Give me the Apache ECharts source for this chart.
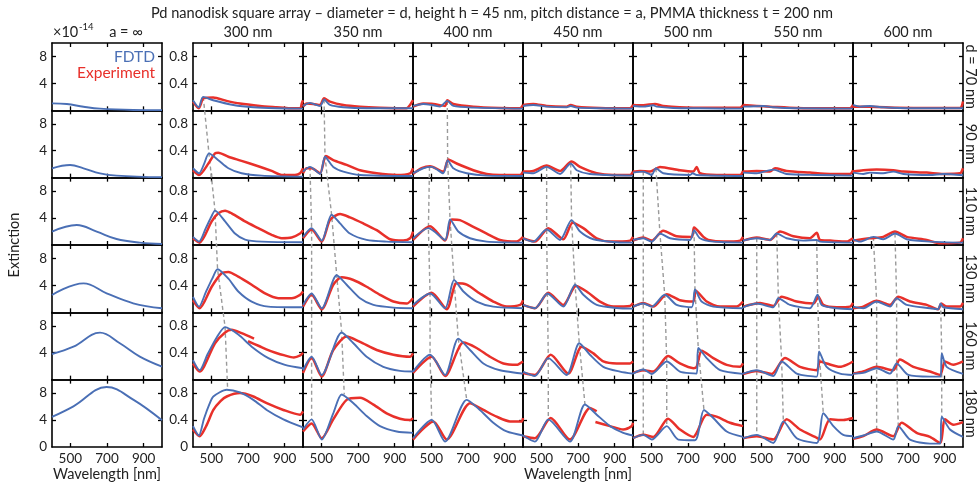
<!DOCTYPE html>
<html><head><meta charset="utf-8">
<script src="https://cdn.jsdelivr.net/npm/echarts@6/dist/echarts.min.js"></script>
<style>html,body{margin:0;padding:0;background:#fff}#c{width:978px;height:485px}</style>
</head><body><div id="c"></div>
<script>
// ---------------- labels / ticks ----------------
const titleText = 'Pd nanodisk square array \u2013 diameter = d, height h = 45 nm, pitch distance = a, PMMA thickness t = 200 nm';
const pitchLabels = ['300 nm','350 nm','400 nm','450 nm','500 nm','550 nm','600 nm'];
const diameterLabels = ['d = 70 nm','90 nm','110 nm','130 nm','160 nm','180 nm'];
const xTicks = [500, 700, 900];
const yTicksLeft = [4, 8];
const yTicksRight = [0.4, 0.8];

// ---------------- isolated disk (a = inf), x10^-14 ----------------
const fdtdIsolated = [
  [[400,1.04],[481,0.94],[572,0.54],[662,0.25],[843,0.06],[1000,0.03]],
  [[400,1.39],[499,1.88],[572,1.39],[662,0.64],[752,0.3],[1000,0.05]],
  [[400,1.98],[535,2.97],[644,1.98],[752,0.89],[879,0.35],[1000,0.15]],
  [[400,2.57],[572,4.3],[698,2.82],[843,1.34],[1000,0.6]],
  [[400,3.81],[517,4.9],[662,6.98],[770,5.4],[879,3.42],[1000,1.93]],
  [[400,4.46],[517,6.04],[698,8.9],[843,7.03],[1000,3.96]]
];

// ---------------- pitch 300 nm ----------------
const fdtd300 = [
  [[400,.15],[431,.045],[455,.2],[510,.15],[620,.08],[729,.045],[850,.03],[1000,.025]],
  [[400,.14],[433,.065],[460,.2],[487,.36],[538,.26],[593,.14],[665,.065],[775,.03],[1000,.015]],
  [[400,.12],[433,.05],[470,.25],[500,.42],[520,.51],[575,.35],[629,.17],[684,.08],[775,.05],[1000,.04]],
  [[400,.23],[433,.085],[470,.3],[505,.5],[534,.64],[593,.5],[647,.31],[720,.16],[811,.085],[1000,.075]],
  [[400,.29],[436,.14],[480,.38],[530,.63],[575,.78],[647,.67],[720,.49],[811,.32],[902,.22],[1000,.17]],
  [[400,.31],[432,.17],[460,.42],[490,.64],[511,.75],[584,.85],[656,.81],[729,.7],[802,.55],[893,.41],[1000,.29]]
];
const exp300 = [
  [[400,.13],[431,.03],[458,.18],[510,.19],[583,.14],[656,.1],[765,.065],[856,.045],[929,.03],[985,.03],[993,.1],[1000,.15]],
  [[400,.11],[433,.04],[484,.21],[520,.36],[538,.37],[593,.31],[665,.25],[756,.17],[829,.1],[884,.04],[956,.04],[984,.065],[1000,.14]],
  [[400,.1],[436,.035],[502,.35],[538,.47],[575,.51],[611,.47],[684,.35],[756,.25],[829,.15],[884,.1],[938,.11],[984,.17],[1000,.22]],
  [[400,.18],[436,.06],[502,.38],[556,.58],[593,.6],[647,.53],[720,.41],[793,.28],[865,.21],[938,.21],[984,.26],[1000,.31]],
  [[400,.24],[436,.12],[520,.54],[575,.7],[611,.74],[665,.69],[733,.61],null,[700,.57],[760,.5],[800,.45],[850,.4],[900,.36],[950,.33],[985,.36],[1000,.4]],
  [[400,.26],[436,.16],[470,.3],[511,.55],[550,.68],[584,.75],[656,.8],[729,.75],[802,.65],[893,.55],[984,.48],[1000,.53]]
];
const dash300 = [
  [[456,.2],[487,.36],[520,.51],[534,.64],[575,.78],[589,.85]]
];

// ---------------- pitch 350 nm ----------------
const fdtd350 = [
  [[400,.065],[438,.11],[493,.065],[515,.16],[547,.08],[620,.045],[747,.03],[1000,.03]],
  [[400,.09],[438,.16],[493,.055],[520,.31],[565,.16],[620,.09],[711,.04],[1000,.025]],
  [[400,.12],[447,.25],[502,.065],[556,.45],[602,.32],[656,.17],[747,.075],[856,.05],[1000,.04]],
  [[400,.11],[447,.28],[502,.06],[584,.55],[638,.41],[711,.21],[784,.11],[893,.07],[1000,.06]],
  [[400,.14],[447,.34],[502,.07],[611,.7],[675,.54],[747,.34],[838,.19],[929,.13],[1000,.12]],
  [[400,.26],[447,.41],[502,.11],[565,.5],[611,.78],[675,.65],[747,.46],[820,.31],[911,.23],[1000,.21]]
];
const exp350 = [
  [[400,.055],[420,.1],[456,.095],[493,.08],[515,.18],[547,.13],[620,.08],[711,.055],[820,.04],[965,.03],[984,.08],[1000,.15]],
  [[400,.065],[420,.14],[447,.14],[493,.065],[525,.32],[565,.26],[638,.19],[711,.11],[802,.065],[911,.04],[984,.065],[1000,.14]],
  [[400,.1],[447,.23],[502,.05],[547,.37],[602,.46],[656,.41],[729,.32],[802,.22],[875,.085],[947,.065],[984,.1],[1000,.2]],
  [[400,.085],[447,.26],[502,.045],[565,.41],[611,.52],[675,.48],[747,.38],[820,.26],[893,.16],[965,.13],[1000,.21]],
  [[400,.1],[447,.32],[502,.045],[565,.44],[638,.64],[711,.56],[802,.44],[893,.37],[984,.34],[1000,.39]],
  [[400,.23],[447,.35],[502,.13],[565,.41],[638,.7],[711,.73],[784,.63],[856,.5],[929,.42],[984,.4],[1000,.43]]
];
const dash350 = [
  [null,[438,.16],[447,.25],[447,.28],[447,.34],[447,.41]],
  [[515,.16],[520,.31],[556,.45],[584,.55],[611,.7],[625,.78]]
];

// ---------------- pitch 400 nm ----------------
const fdtd400 = [
  [[400,.065],[456,.095],[511,.075],[547,.055],[587,.14],[620,.065],[729,.04],[1000,.025]],
  [[400,.065],[456,.14],[502,.16],[565,.065],[589,.26],[620,.14],[693,.065],[802,.03],[1000,.025]],
  [[400,.1],[484,.25],[575,.075],[602,.38],[647,.2],[711,.1],[802,.05],[1000,.035]],
  [[400,.11],[493,.28],[575,.06],[624,.48],[675,.31],[747,.16],[838,.085],[1000,.06]],
  [[400,.12],[493,.37],[575,.07],[647,.61],[711,.44],[784,.24],[875,.14],[1000,.09]],
  [[400,.13],[502,.4],[575,.08],[693,.7],[765,.55],[838,.36],[911,.23],[1000,.17]]
];
const exp400 = [
  [[400,.055],[456,.1],[511,.095],[575,.065],[587,.15],[620,.095],[729,.055],[875,.035],[984,.03],[1000,.08]],
  [[400,.055],[447,.14],[493,.17],[565,.09],[593,.27],[638,.21],[729,.11],[802,.055],[875,.04],[984,.04],[1000,.09]],
  [[400,.075],[493,.28],[575,.065],[611,.38],[656,.37],[729,.27],[802,.17],[875,.075],[965,.05],[1000,.12]],
  [[400,.085],[502,.29],[584,.045],[638,.43],[693,.41],[765,.28],[838,.16],[911,.085],[984,.11],[1000,.18]],
  [[400,.1],[502,.34],[575,.055],[675,.55],[747,.47],[820,.34],[893,.24],[965,.22],[1000,.27]],
  [[400,.11],[511,.38],[584,.11],[711,.65],[784,.55],[856,.45],[929,.38],[993,.38],[1000,.43]]
];
const dash400 = [
  [null,[490,.16],[484,.25],[493,.28],[493,.37],[502,.4]],
  [[587,.14],[589,.26],[602,.38],[624,.48],[647,.61],[693,.7]]
];

// ---------------- pitch 450 nm ----------------
const fdtd450 = [
  [[400,.065],[456,.08],[529,.055],[638,.045],[660,.065],[693,.04],[820,.03],[1000,.025]],
  [[400,.075],[456,.065],[529,.16],[602,.055],[660,.21],[693,.11],[765,.055],[1000,.03]],
  [[400,.1],[456,.05],[529,.23],[602,.075],[665,.37],[711,.2],[784,.085],[911,.04],[1000,.035]],
  [[400,.11],[465,.06],[533,.28],[620,.085],[684,.41],[729,.26],[802,.11],[911,.065],[1000,.055]],
  [[400,.12],[465,.055],[538,.32],[638,.07],[707,.54],[765,.37],[838,.19],[929,.12],[1000,.09]],
  [[400,.17],[465,.08],[538,.41],[656,.08],[738,.63],[802,.48],[875,.31],[947,.21],[1000,.17]]
];
const exp450 = [
  [[400,.08],[456,.095],[529,.065],[638,.055],[660,.08],[693,.055],[820,.035],[984,.03],[1000,.08]],
  [[400,.09],[456,.1],[529,.18],[602,.1],[665,.24],[711,.16],[802,.065],[893,.04],[984,.04],[1000,.09]],
  [[400,.1],[465,.05],[538,.25],[620,.085],[671,.33],[729,.25],[802,.1],[875,.05],[984,.065],[1000,.12]],
  [[400,.11],[465,.06],[538,.29],[620,.11],[689,.39],[747,.31],[820,.16],[893,.085],[984,.095],[1000,.14]],
  [[400,.1],[465,.07],[551,.37],[647,.09],[720,.49],[784,.39],[838,.27],[911,.24],[984,.24],[1000,.27]],
  [[400,.16],[465,.13],[551,.43],[656,.11],[765,.58],[802,.53],null,[795,.37],[875,.31],[947,.26],[993,.31],[1000,.36]]
];
const dash450 = [
  [null,[529,.16],[529,.23],[533,.28],[538,.32],[538,.41]],
  [null,[660,.21],[665,.37],[684,.41],[707,.54],[738,.63]]
];

// ---------------- pitch 500 nm ----------------
const fdtd500 = [
  [[400,.065],[456,.055],[511,.075],[529,.055],[620,.035],[765,.03],[1000,.025]],
  [[400,.075],[456,.09],[502,.04],[525,.14],[565,.065],[711,.04],[725,.065],[747,.04],[1000,.025]],
  [[400,.075],[456,.1],[502,.05],[547,.17],[602,.1],[711,.075],[733,.22],[765,.1],[838,.05],[1000,.035]],
  [[400,.085],[456,.13],[502,.085],[573,.26],[638,.11],[720,.075],[738,.34],[774,.16],[838,.085],[1000,.06]],
  [[400,.09],[456,.15],[502,.085],[584,.27],[656,.12],[747,.09],[756,.47],[802,.32],[875,.14],[1000,.085]],
  [[400,.13],[456,.18],[502,.11],[584,.31],[647,.11],[738,.1],[787,.55],[838,.43],[911,.23],[1000,.15]]
];
const exp500 = [
  [[400,.08],[456,.075],[520,.095],[565,.065],[729,.04],[856,.04],[984,.04],[1000,.08]],
  [[400,.09],[438,.1],[493,.09],[547,.16],[656,.11],[729,.09],[747,.16],[765,.065],[856,.04],[984,.04],[1000,.1]],
  [[400,.065],[456,.11],[502,.065],[565,.21],[638,.13],[720,.12],[733,.26],[784,.12],[811,.075],[893,.05],[984,.065],[1000,.12]],
  [[400,.085],[456,.14],[511,.085],[584,.27],[656,.18],[729,.16],[742,.32],[802,.16],[875,.085],[965,.085],[1000,.16]],
  [[400,.1],[456,.14],[511,.12],[591,.35],[656,.24],[729,.17],[747,.19],[775,.43],[838,.32],[911,.22],[984,.19],[1000,.24]],
  [[400,.13],[456,.18],[511,.15],[591,.42],[656,.26],[729,.15],[747,.21],[802,.48],[856,.45],[929,.36],[1000,.31]]
];
const dash500 = [
  [null,[456,.09],[456,.1],[456,.13],[456,.15],[456,.18]],
  [null,[525,.14],[547,.17],[573,.26],[584,.27],[584,.31]],
  [null,null,[733,.22],[738,.34],[756,.47],[787,.55]]
];

// ---------------- pitch 550 nm ----------------
const fdtd550 = [
  [[400,.055],[511,.065],[565,.045],[693,.03],[1000,.025]],
  [[400,.075],[475,.065],[565,.12],[638,.055],[802,.04],[1000,.03]],
  [[400,.065],[475,.1],[547,.075],[584,.17],[638,.1],[729,.065],[802,.075],[820,.05],[1000,.035]],
  [[400,.075],[475,.13],[565,.075],[593,.21],[656,.11],[765,.06],[807,.26],[829,.11],[911,.06],[1000,.045]],
  [[400,.09],[475,.14],[565,.055],[611,.27],[693,.09],[802,.045],[815,.42],[856,.19],[929,.09],[1000,.07]],
  [[400,.13],[475,.18],[565,.06],[620,.38],[693,.13],[802,.06],[838,.5],[893,.31],[947,.18],[1000,.16]]
];
const exp550 = [
  [[400,.08],[475,.065],[547,.055],[693,.035],[875,.03],[984,.03],[1000,.08]],
  [[400,.09],[475,.1],[547,.09],[575,.14],[638,.1],[765,.075],[875,.055],[984,.055],[1000,.11]],
  [[400,.065],[475,.11],[547,.075],[602,.2],[675,.13],[765,.1],[802,.18],[820,.075],[875,.065],[965,.05],[1000,.1]],
  [[400,.085],[493,.14],[565,.095],[611,.23],[693,.16],[784,.13],[811,.23],[838,.11],[911,.075],[984,.085],[1000,.14]],
  [[400,.085],[475,.13],[556,.085],[629,.32],[711,.19],[802,.14],[820,.27],[856,.24],[929,.19],[965,.22],[1000,.27]],
  [[400,.13],[475,.16],[565,.11],[638,.41],[711,.26],[793,.15],[820,.11],[875,.41],[947,.4],[1000,.43]]
];
const dash550 = [
  [null,null,[475,.1],[475,.13],[475,.14],[475,.18]],
  [null,null,[584,.17],[593,.21],[611,.27],[620,.38]],
  [null,null,[802,.075],[807,.26],[815,.42],[838,.5]]
];

// ---------------- pitch 600 nm ----------------
const fdtd600 = [
  [[400,.08],[438,.055],[493,.065],[565,.045],[729,.03],[1000,.03]],
  [[400,.075],[456,.055],[493,.075],[565,.065],[620,.09],[675,.055],[820,.04],[893,.055],[1000,.035]],
  [[400,.085],[438,.05],[511,.12],[565,.085],[629,.17],[693,.085],[820,.05],[1000,.035]],
  [[400,.085],[456,.06],[529,.16],[602,.085],[638,.21],[693,.11],[820,.06],[864,.045],[878,.13],[893,.075],[1000,.045]],
  [[400,.09],[456,.1],[529,.17],[602,.09],[638,.24],[702,.07],[820,.045],[878,.045],[884,.39],[911,.19],[1000,.085]],
  [[400,.13],[456,.17],[529,.23],[620,.11],[647,.31],[711,.11],[820,.05],[875,.05],[884,.45],[929,.26],[1000,.15]]
];
const exp600 = [
  [[400,.055],[493,.055],[638,.04],[820,.035],[984,.035],[1000,.13]],
  [[400,.09],[456,.11],[529,.12],[620,.11],[675,.09],[802,.075],[893,.055],[984,.065],[1000,.14]],
  [[400,.065],[493,.1],[565,.12],[629,.2],[693,.12],[802,.075],[875,.025],[984,.035],[1000,.1]],
  [[400,.06],[456,.085],[529,.17],[602,.11],[647,.23],[711,.16],[802,.11],[864,.045],[882,.13],[911,.085],[984,.085],[1000,.14]],
  [[400,.09],[456,.12],[529,.19],[620,.14],[656,.3],[729,.19],[820,.12],[875,.07],[902,.27],[947,.22],[1000,.27]],
  [[400,.12],[456,.16],[529,.26],[620,.16],[665,.36],[747,.21],[820,.15],[875,.06],[902,.41],[947,.33],[1000,.37]]
];
const dash600 = [
  [null,null,[511,.12],[529,.16],[529,.17],[529,.23]],
  [null,null,[629,.17],[638,.21],[638,.24],[647,.31]],
  [null,null,null,[878,.13],[884,.39],[884,.45]]
];

const fdtdByPitch = [fdtd300, fdtd350, fdtd400, fdtd450, fdtd500, fdtd550, fdtd600];
const expByPitch  = [exp300, exp350, exp400, exp450, exp500, exp550, exp600];
const dashByPitch = [dash300, dash350, dash400, dash450, dash500, dash550, dash600];

// ---------------- layout & style ----------------
const FONT = 'Lato, "Open Sans", sans-serif';
const BLUE = '#4a6fb5', RED = '#e8302a', DASH = '#9a9a9a', TXT = '#222';
const LAY = { leftX: 52, firstX: 193, w: 110, top: 43, h: 67.33 };

const grids = [], xAxes = [], yAxes = [], series = [];

function addPanel(left, top, isLeftCol, row, showY) {
  const g = grids.length;
  grids.push({ left: left, top: top, width: LAY.w, height: LAY.h, show: false });
  const lineStyle = { color: '#000', width: 1.6 };
  const tickStyle = { color: '#000', width: 1.3 };
  const bottom = row === 5;
  const common = (vals) => ({
    axisLine: { show: true, onZero: false, lineStyle: lineStyle },
    axisTick: { show: true, inside: true, length: 4, customValues: vals, lineStyle: tickStyle },
    splitLine: { show: false }
  });
  xAxes.push(Object.assign({ type: 'value', gridIndex: g, position: 'bottom', min: 400, max: 1000,
    axisLabel: { show: bottom, customValues: xTicks, margin: 5, fontSize: 13.5, color: TXT, fontFamily: FONT } }, common(xTicks)));
  xAxes.push(Object.assign({ type: 'value', gridIndex: g, position: 'top', min: 400, max: 1000,
    axisLabel: { show: false } }, common(xTicks)));
  const yt = isLeftCol ? yTicksLeft : yTicksRight;
  const ymax = isLeftCol ? 10 : 1;
  yAxes.push(Object.assign({ type: 'value', gridIndex: g, position: 'left', min: 0, max: ymax,
    axisLabel: { show: showY, customValues: bottom ? [0].concat(yt) : yt, margin: 5, fontSize: 13.5, color: TXT, fontFamily: FONT } }, common(yt)));
  yAxes.push(Object.assign({ type: 'value', gridIndex: g, position: 'right', min: 0, max: ymax,
    axisLabel: { show: false } }, common(yt)));
  return g;
}

function lineSeries(g, data, color, width, z, dashed, smooth) {
  return {
    type: 'line', xAxisIndex: 2 * g, yAxisIndex: 2 * g,
    data: data.map(p => p === null ? '-' : p),
    showSymbol: false, symbol: 'none', connectNulls: false,
    smooth: smooth || false, clip: true, z: z, silent: true,
    lineStyle: { color: color, width: width, type: dashed ? [4, 3] : 'solid', cap: 'butt', join: 'round' }
  };
}

function dashPoints(track, r) {
  const pts = [];
  for (let k = 0; k < track.length; k++) {
    const p = track[k];
    if (p) pts.push([p[0], p[1] + (r - k)]);
  }
  return pts;
}

// left column (isolated disks)
for (let r = 0; r < 6; r++) {
  const g = addPanel(LAY.leftX, LAY.top + r * LAY.h, true, r, true);
  series.push(lineSeries(g, fdtdIsolated[r], BLUE, 1.9, 3, false, 0.4));
}
// array columns
for (let c = 0; c < 7; c++) {
  for (let r = 0; r < 6; r++) {
    const g = addPanel(LAY.firstX + c * LAY.w, LAY.top + r * LAY.h, false, r, c === 0);
    dashByPitch[c].forEach(tr => series.push(lineSeries(g, dashPoints(tr, r), DASH, 1.4, 1, true, false)));
    series.push(lineSeries(g, expByPitch[c][r], RED, 2.5, 2, false, 0.25));
    series.push(lineSeries(g, fdtdByPitch[c][r], BLUE, 1.9, 3, false, 0.25));
  }
}

// ---------------- texts ----------------
const texts = [];
function txt(x, y, s, size, color, align, rot) {
  texts.push({ type: 'text', x: x, y: y, rotation: rot || 0, silent: true, z: 10,
    style: { text: s, font: size + 'px ' + FONT, fill: color || TXT,
      align: align || 'center', verticalAlign: 'middle', textAlign: align || 'center', textVerticalAlign: 'middle' } });
}
txt(492, 13, titleText, 14.6);
pitchLabels.forEach((p, c) => txt(LAY.firstX + c * LAY.w + LAY.w / 2, 32, p, 14.5));
txt(53, 32, '\u00d710', 14.5, TXT, 'left');
txt(79, 27, '-14', 9.5, TXT, 'left');
txt(126, 32, 'a = \u221e', 14.5);
txt(155, 57, 'FDTD', 15.5, BLUE, 'right');
txt(155, 73, 'Experiment', 15.5, RED, 'right');
diameterLabels.forEach((d, r) => txt(971, LAY.top + r * LAY.h + LAY.h / 2, d, 14.5, TXT, 'center', -Math.PI / 2));
txt(14, 245, 'Extinction', 14.5, TXT, 'center', Math.PI / 2);
txt(107, 474, 'Wavelength [nm]', 14.5);
txt(578, 474, 'Wavelength [nm]', 14.5);

const chart = echarts.init(document.getElementById('c'), null, { renderer: 'canvas' });
chart.setOption({
  animation: false,
  backgroundColor: '#fff',
  grid: grids,
  xAxis: xAxes,
  yAxis: yAxes,
  series: series,
  graphic: { elements: texts }
});
</script>
</body></html>
